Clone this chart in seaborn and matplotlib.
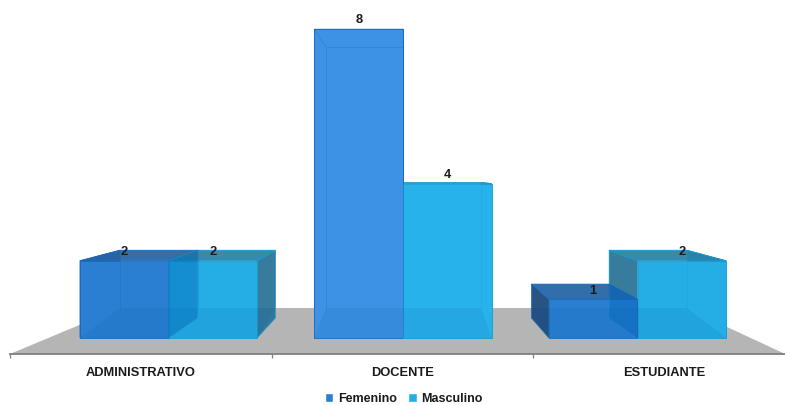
import matplotlib
matplotlib.use("Agg")
import matplotlib.pyplot as plt
from matplotlib.patches import Polygon, Patch
import pandas as pd
import seaborn as sns

categories = ["ADMINISTRATIVO", "DOCENTE", "ESTUDIANTE"]
femenino = [2, 8, 1]
masculino = [2, 4, 2]
series_names = ["Femenino", "Masculino"]

FRONT = {"Femenino": "#2a7fd2", "Masculino": "#25aee6"}
TOP = {"Femenino": "#2765a8", "Masculino": "#2a84a9"}
SIDE = {"Femenino": "#1d4a7a", "Masculino": "#2c7498"}
LINE = {"Femenino": "#1a6cbc", "Masculino": "#1a9ad2"}
TEXT = "#1a1a1a"

table = pd.DataFrame({
    "categoria": categories * 2,
    "serie": [series_names[0]] * 3 + [series_names[1]] * 3,
    "valor": femenino + masculino,
})

sns.set_theme(style="white")
plt.rcParams["font.family"] = ["Liberation Sans", "DejaVu Sans"]

fig = plt.figure(figsize=(7.85, 4.05), dpi=100)
ax = fig.add_axes([0, 0, 1, 1])

sns.barplot(
    data=table, x="categoria", y="valor", hue="serie", hue_order=series_names,
    palette=FRONT, saturation=1, width=0.755, gap=0, legend=False, ax=ax, zorder=5,
    edgecolor="none",
)

# Axis frame: one category step is 234.5 px, one value unit 38.6 px
ax.set_xlim(-168.5 / 234.5, (785 - 168.5) / 234.5)
ax.set_ylim(-67 / 38.6, 338 / 38.6)

# Oblique projection of the rear of each bar
DEPTH_SCALE = 0.8775
CENTER_X = 1.015
LIFT = 0.518


def rear(x, v):
    return CENTER_X + DEPTH_SCALE * (x - CENTER_X), DEPTH_SCALE * v + LIFT


# Grey floor plane
FLOOR_FRONT = -0.415
FLOOR_BACK = 0.777
ax.add_patch(Polygon(
    [(-0.676, FLOOR_FRONT), (-0.207, FLOOR_BACK), (2.207, FLOOR_BACK), (2.63, FLOOR_FRONT)],
    facecolor="#b5b5b5", edgecolor="none", zorder=1,
))

# Outer faces sit behind the fronts; glazing on top stands in for the see-through look
for name, container in zip(series_names, ax.containers):
    for bar in container:
        x0, x1 = bar.get_x(), bar.get_x() + bar.get_width()
        h = bar.get_height()
        bl, br = rear(x0, 0), rear(x1, 0)
        tl, tr = rear(x0, h), rear(x1, h)
        line = dict(edgecolor=LINE[name], linewidth=0.6)
        ax.add_patch(Polygon([(x0, 0), bl, tl, (x0, h)], facecolor=SIDE[name], alpha=0.95, zorder=3, **line))
        ax.add_patch(Polygon([(x1, 0), br, tr, (x1, h)], facecolor=SIDE[name], alpha=0.95, zorder=3, **line))
        ax.add_patch(Polygon([(x0, h), (x1, h), tr, tl], facecolor=TOP[name], alpha=0.95, zorder=4, **line))
        bar.set_edgecolor(LINE[name])
        bar.set_linewidth(0.6)
        # Floor seen through the bar
        ax.add_patch(Polygon([(x0, 0), (x1, 0), (br[0], FLOOR_BACK), (bl[0], FLOOR_BACK)],
                             facecolor="#0a5fa8", alpha=0.13, zorder=6, edgecolor="none"))
        # Rear edges seen through the bar, stopping at the floor line
        ax.plot([bl[0], tl[0], tr[0], br[0]], [FLOOR_BACK, tl[1], tr[1], FLOOR_BACK],
                color=LINE[name], linewidth=0.7, alpha=0.3, zorder=6)
        ax.plot([x0, tl[0]], [h, tl[1]], color=LINE[name], linewidth=0.7, alpha=0.3, zorder=6)
        ax.plot([x1, tr[0]], [h, tr[1]], color=LINE[name], linewidth=0.7, alpha=0.3, zorder=6)
        # Face shared with the neighbouring bar
        if name == series_names[0]:
            ax.add_patch(Polygon([(x1, 0), br, tr, (x1, h)], facecolor="#0068b8", alpha=0.45,
                                 zorder=6, edgecolor="none"))

# The taller Docente bars read lighter than the others
ax.containers[0][1].set_facecolor("#3d92e6")
ax.containers[1][1].set_facecolor("#28b2ec")

for container in ax.containers:
    ax.bar_label(container, fmt="%d", padding=2, fontsize=9.3, fontweight="bold",
                 color=TEXT, zorder=8)

# Category axis along the front edge of the floor
for side in ("top", "left", "right"):
    ax.spines[side].set_visible(False)
ax.spines["bottom"].set_position(("data", FLOOR_FRONT))
ax.spines["bottom"].set_bounds(-0.676, ax.get_xlim()[1])
ax.spines["bottom"].set_color("#7f7f7f")
ax.spines["bottom"].set_linewidth(1.3)
ax.spines["bottom"].set_zorder(6)
ax.set_yticks([])
ax.set_xlabel("")
ax.set_ylabel("")
ax.set_xticks([-0.117, 1, 2.115], categories)
ax.set_xticks([-0.676, 0.441, 1.554], minor=True)
ax.tick_params(axis="x", which="major", length=0, pad=9, labelsize=9.3, labelcolor=TEXT)
ax.tick_params(axis="x", which="minor", length=3, width=0.9, color="#7f7f7f", direction="out", bottom=True)
for label in ax.get_xticklabels():
    label.set_fontweight("bold")

handles = [Patch(facecolor=FRONT[n], label=n) for n in series_names]
ax.legend(
    handles=handles, ncol=2, frameon=False, loc="center",
    bbox_to_anchor=(404 / 785, 1 - 399 / 405),
    prop={"size": 9, "weight": "bold"}, labelcolor=TEXT,
    handlelength=0.65, handleheight=0.65, handletextpad=0.4, columnspacing=0.9,
    borderpad=0, borderaxespad=0,
)

fig.savefig("out.png", dpi=100, facecolor="white")
